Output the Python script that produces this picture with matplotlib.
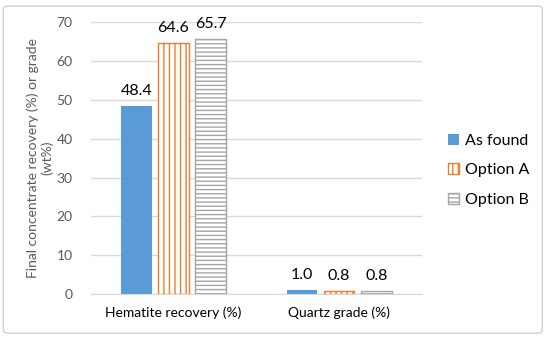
import matplotlib.pyplot as plt
import numpy as np
from matplotlib.patches import FancyBboxPatch

# chart data
categories = ['Hematite recovery (%)', 'Quartz grade (%)']
series = ['As found', 'Option A', 'Option B']
as_found = [48.4, 1.0]
option_a = [64.6, 0.8]
option_b = [65.7, 0.8]

plt.rcParams['font.family'] = ['Lato', 'DejaVu Sans']
plt.rcParams['hatch.linewidth'] = 1.0

fig = plt.figure(figsize=(5.5, 3.4), dpi=100)
ax = fig.add_axes([0.165, 0.135, 0.602, 0.8])

# rounded border round the whole chart
fig.patches.append(FancyBboxPatch((0.006, 0.02), 0.98, 0.962, boxstyle='round,pad=0,rounding_size=0.01',
                                  transform=fig.transFigure, facecolor='none', edgecolor='#D0D0D0', lw=1))

x = np.arange(len(categories))
w = 0.185
step = 0.225

b1 = ax.bar(x - step, as_found, w, color='#5B9BD5', label=series[0])
b2 = ax.bar(x, option_a, w, facecolor='white', edgecolor='#ED7D31', hatch='|||', lw=1, label=series[1])
b3 = ax.bar(x + step, option_b, w, facecolor='white', edgecolor='#A5A5A5', hatch='----', lw=1, label=series[2])

for bars in (b1, b2, b3):
    for r in bars:
        h = r.get_height()
        ax.text(r.get_x() + r.get_width() / 2, h + 2, f'{h:.1f}', ha='center', va='bottom',
                fontsize=11.5, color='black')

ax.set_xlim(-0.5, 1.5)
ax.set_ylim(0, 70)
ax.set_yticks(range(0, 71, 10))
ax.set_xticks(x)
ax.set_xticklabels(categories)
ax.yaxis.grid(True, color='#D9D9D9', lw=1)
ax.set_axisbelow(True)
for s in ['top', 'right', 'left']:
    ax.spines[s].set_visible(False)
ax.spines['bottom'].set_color('#D9D9D9')
ax.tick_params(axis='both', length=0, colors='#595959', labelsize=10)
ax.tick_params(axis='x', colors='black', pad=9)
ax.tick_params(axis='y', pad=13)
ax.set_ylabel('Final concentrate recovery (%) or grade\n(wt%)', fontsize=10, color='#595959', labelpad=2)

leg = ax.legend(loc='center left', bbox_to_anchor=(1.035, 0.455), frameon=False, fontsize=11.5,
                handlelength=0.7, handleheight=0.7, labelspacing=0.95, handletextpad=0.35)

fig.savefig('out.png', dpi=100)
